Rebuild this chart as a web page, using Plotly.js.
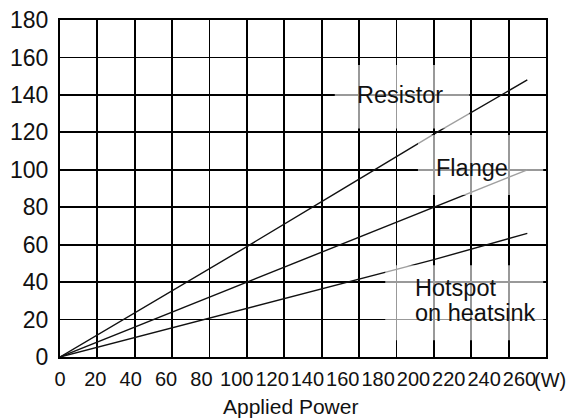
<!DOCTYPE html>
<html>
<head>
<meta charset="utf-8">
<script src="https://cdn.plot.ly/plotly-3.0.1.min.js"></script>
<style>html,body{margin:0;padding:0;background:#fff;}#chart{width:575px;height:419px;}</style>
</head>
<body>
<div id="chart"></div>
<script>
// Applied power (W)
var power = [0, 50, 100, 150, 200, 250];
// Temperature rise series
var resistor = [0, 29.5, 59, 89, 119, 148];
var flange = [0, 20, 40, 60, 80, 100];
var hotspot = [0, 13, 26, 39, 52, 66];
// Axis tick labels
var xTickVals = [0, 20, 40, 60, 80, 100, 120, 140, 160, 180, 200, 220, 240, 260];
var xTickText = ['0', '20', '40', '60', '80', '100', '120', '140', '160', '180', '200', '220', '240', '260'];
var yTickVals = [0, 20, 40, 60, 80, 100, 120, 140, 160, 180];

var lineStyle = {color: '#111', width: 1.4};
var traces = [
  {x: power, y: resistor, mode: 'lines', line: lineStyle, name: 'Resistor', hoverinfo: 'none'},
  {x: power, y: flange, mode: 'lines', line: lineStyle, name: 'Flange', hoverinfo: 'none'},
  {x: power, y: hotspot, mode: 'lines', line: lineStyle, name: 'Hotspot on heatsink', hoverinfo: 'none'},
  {x: xTickVals, y: xTickVals.map(function(){return null;}), xaxis: 'x2', mode: 'lines', hoverinfo: 'none', showlegend: false}
];

var fontMain = 'Liberation Sans, Arial, Helvetica, sans-serif';
var boxFill = 'rgba(255,255,255,0.6)';

var layout = {
  width: 575, height: 419,
  margin: {l: 60, r: 29, t: 20, b: 62},
  paper_bgcolor: '#fff', plot_bgcolor: '#fff',
  showlegend: false,
  xaxis: {
    range: [0, 260], tickvals: xTickVals, showticklabels: false,
    showgrid: true, gridcolor: '#000', gridwidth: 1.8,
    zeroline: false, showline: true, mirror: true, linecolor: '#000', linewidth: 2,
    ticks: '', fixedrange: true
  },
  xaxis2: {
    overlaying: 'x', anchor: 'y', side: 'bottom',
    range: [0, 275], tickvals: xTickVals, ticktext: xTickText,
    showgrid: false, zeroline: false, showline: false, ticks: '',
    tickangle: 0, ticklabelstandoff: 8,
    tickfont: {family: fontMain, size: 20, color: '#111'}, fixedrange: true
  },
  yaxis: {
    range: [0, 180], tickvals: yTickVals,
    showgrid: true, gridcolor: '#000', gridwidth: 1.8,
    zeroline: false, showline: true, mirror: true, linecolor: '#000', linewidth: 2,
    ticks: '', ticklabelstandoff: 5,
    tickfont: {family: fontMain, size: 23, color: '#111'}, fixedrange: true
  },
  shapes: [
    {type: 'rect', xref: 'x', yref: 'y', x0: 147, x1: 219, y0: 122, y1: 156, fillcolor: boxFill, line: {width: 0}, layer: 'above'},
    {type: 'rect', xref: 'x', yref: 'y', x0: 191.5, x1: 258.5, y0: 86.5, y1: 118.6, fillcolor: boxFill, line: {width: 0}, layer: 'above'},
    {type: 'rect', xref: 'x', yref: 'y', x0: 174, x1: 258.5, y0: 9, y1: 49, fillcolor: boxFill, line: {width: 0}, layer: 'above'}
  ],
  annotations: [
    {text: 'Resistor', xref: 'x', yref: 'y', x: 182, y: 140, showarrow: false, font: {family: fontMain, size: 23.5, color: '#111'}},
    {text: 'Flange', xref: 'x', yref: 'y', x: 220.5, y: 101, showarrow: false, font: {family: fontMain, size: 23.5, color: '#111'}},
    {text: 'Hotspot', xref: 'x', yref: 'y', x: 189, y: 37, xanchor: 'left', showarrow: false, font: {family: fontMain, size: 23.5, color: '#111'}},
    {text: 'on heatsink', xref: 'x', yref: 'y', x: 189, y: 23.5, xanchor: 'left', showarrow: false, font: {family: fontMain, size: 23.5, color: '#111'}},
    {text: '(W)', xref: 'paper', yref: 'paper', x: 0.971, y: -0.068, xanchor: 'left', yanchor: 'middle', showarrow: false, font: {family: fontMain, size: 20, color: '#111'}},
    {text: 'Applied Power', xref: 'paper', yref: 'paper', x: 0.475, y: -0.148, xanchor: 'center', yanchor: 'middle', showarrow: false, font: {family: fontMain, size: 21, color: '#111'}}
  ]
};

Plotly.newPlot('chart', traces, layout, {displayModeBar: false, staticPlot: true});
</script>
</body>
</html>
